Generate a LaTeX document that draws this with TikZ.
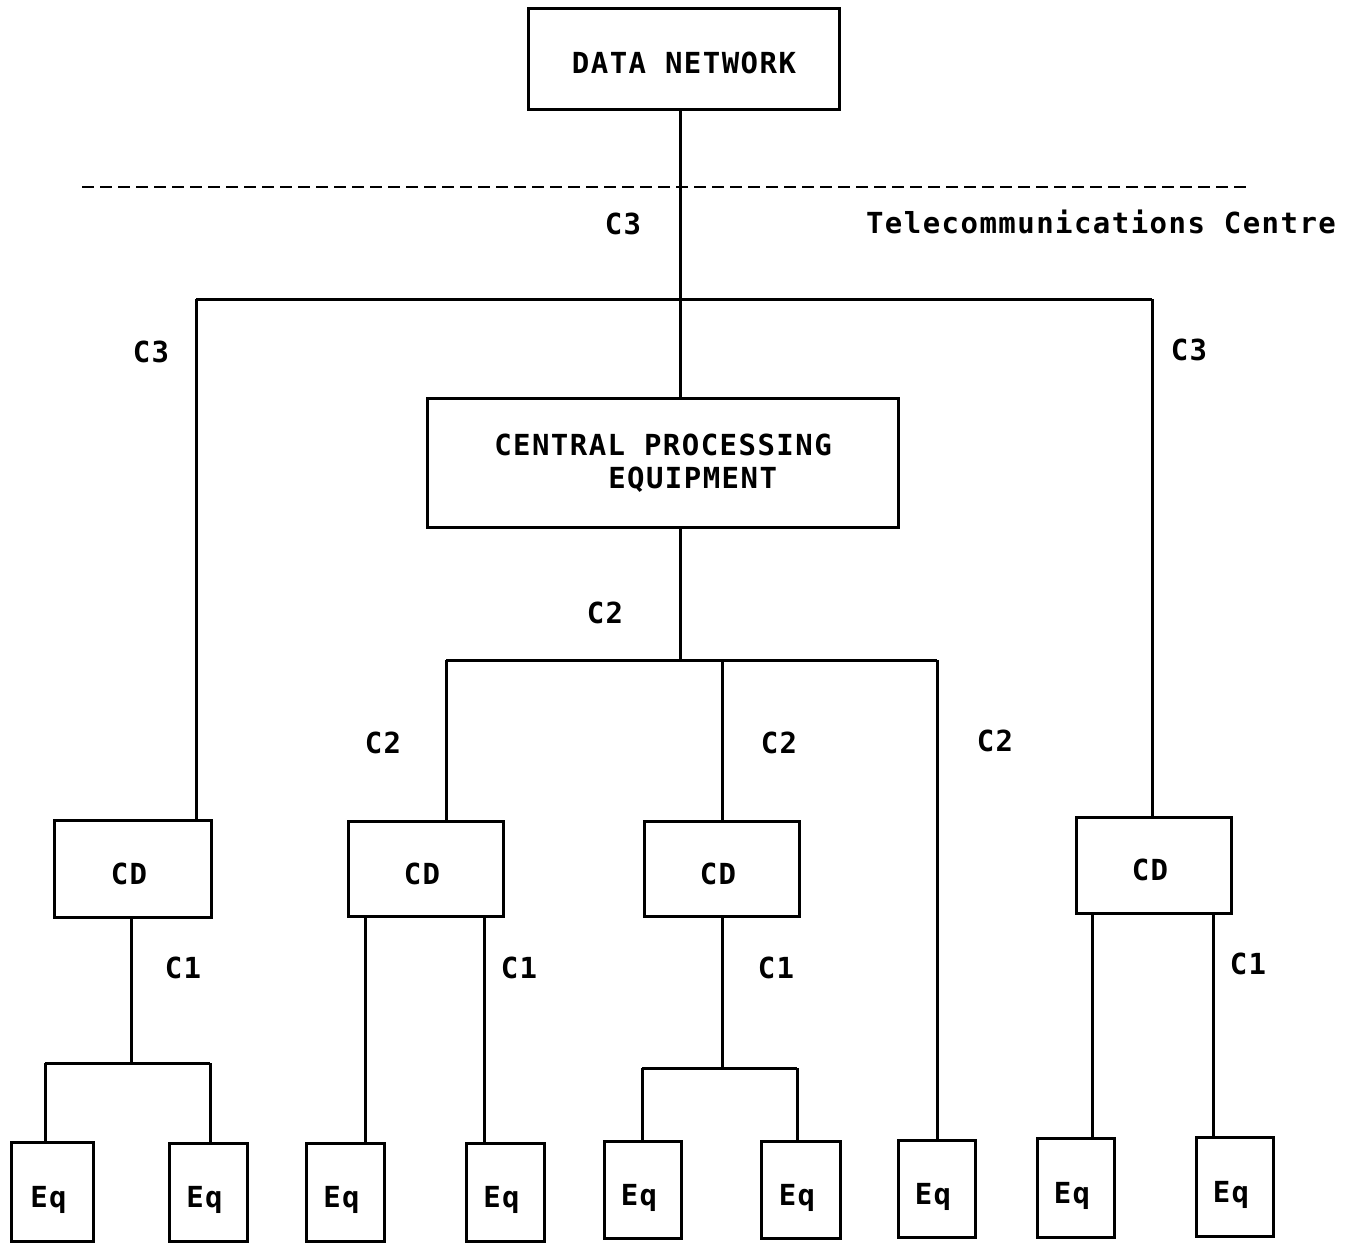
\documentclass[tikz,border=0pt]{standalone}
\usepackage{fontspec}
\setmonofont[LetterSpace=5]{DejaVu Sans Mono}
\begin{document}
\begin{tikzpicture}[x=1pt,y=-1pt,
  every node/.style={font=\ttfamily\bfseries\fontsize{29pt}{33pt}\selectfont},
  box/.style={draw,line width=3pt,inner sep=0pt,anchor=north west},
  sbox/.style={box,text depth=0pt,text height=30pt,execute at end node=\hspace*{8pt}},
  lbl/.style={inner sep=0pt},
  wire/.style={line width=3pt}]
\useasboundingbox (0,0) rectangle (1361,1244);
% boxes
\node[box,text depth=0pt,text height=30pt,minimum width=311pt,minimum height=101pt] (dn) at (527,7) {DATA NETWORK};
\node[box,minimum width=471pt,minimum height=129pt,align=left] (cpe) at (426,397) {CENTRAL PROCESSING\\\hspace*{114pt}EQUIPMENT};
\node[sbox,minimum width=157pt,minimum height=97pt] (cd1) at (53,819) {CD};
\node[sbox,minimum width=155pt,minimum height=95pt] (cd2) at (347,820) {CD};
\node[sbox,minimum width=155pt,minimum height=95pt] (cd3) at (643,820) {CD};
\node[sbox,minimum width=155pt,minimum height=96pt] (cd4) at (1075,816) {CD};
\node[sbox,minimum width=82pt,minimum height=99pt] (e1) at (10,1141) {Eq};
\node[sbox,minimum width=78pt,minimum height=98pt] (e2) at (168,1142) {Eq};
\node[sbox,minimum width=78pt,minimum height=98pt] (e3) at (305,1142) {Eq};
\node[sbox,minimum width=78pt,minimum height=98pt] (e4) at (465,1142) {Eq};
\node[sbox,minimum width=77pt,minimum height=97pt] (e5) at (603,1140) {Eq};
\node[sbox,minimum width=79pt,minimum height=97pt] (e6) at (760,1140) {Eq};
\node[sbox,minimum width=77pt,minimum height=97pt] (e7) at (897,1139) {Eq};
\node[sbox,minimum width=77pt,minimum height=99pt] (e8) at (1036,1137) {Eq};
\node[sbox,minimum width=77pt,minimum height=99pt] (e9) at (1195,1136) {Eq};
% dashed boundary
\coordinate (dl) at (82,187);
\coordinate (dr) at (1250,187);
\draw[wire,line width=2.4pt,dash pattern=on 12pt off 6pt] (dl) -- (dr);
% labels
\node[lbl] (lc3a) at (623,224) {C3};
\node[lbl] (ltc) at (1101,222) {Telecommunications Centre};
\node[lbl] (lc3b) at (151,352) {C3};
\node[lbl] (lc3c) at (1189,350) {C3};
\node[lbl] (lc2a) at (605,613) {C2};
\node[lbl] (lc2b) at (383,743) {C2};
\node[lbl] (lc2c) at (779,743) {C2};
\node[lbl] (lc2d) at (995,741) {C2};
\node[lbl] (lc1a) at (183,968) {C1};
\node[lbl] (lc1b) at (519,968) {C1};
\node[lbl] (lc1c) at (776,968) {C1};
\node[lbl] (lc1d) at (1248,964) {C1};
% junctions
\coordinate (j3m) at (680,299);
\coordinate (j3l) at (196,299);
\coordinate (j3r) at (1152,299);
\coordinate (j2m) at (680,660);
\coordinate (j2l) at (446,660);
\coordinate (j2c) at (722,660);
\coordinate (j2r) at (937,660);
\coordinate (j1a) at (131,1063);
\coordinate (j1al) at (45,1063);
\coordinate (j1ar) at (210,1063);
\coordinate (j1c) at (722,1068);
\coordinate (j1cl) at (642,1068);
\coordinate (j1cr) at (797,1068);
\coordinate (p2l) at (365,915);
\coordinate (p2r) at (484,915);
\coordinate (p4l) at (1092,912);
\coordinate (p4r) at (1213,912);
% C3 level
\draw[wire] (dn.south -| j3m) -- (cpe.north -| j3m);
\draw[wire] (j3l) -- (j3r);
\draw[wire] (j3l) -- (j3l |- cd1.north);
\draw[wire] (j3r) -- (j3r |- cd4.north);
% C2 level
\draw[wire] (cpe.south -| j2m) -- (j2m);
\draw[wire] (j2l) -- (j2r);
\draw[wire] (j2l) -- (j2l |- cd2.north);
\draw[wire] (j2c) -- (j2c |- cd3.north);
\draw[wire] (j2r) -- (j2r |- e7.north);
% C1 level
\draw[wire] (cd1.south -| j1a) -- (j1a);
\draw[wire] (j1al) -- (j1ar);
\draw[wire] (j1al) -- (j1al |- e1.north);
\draw[wire] (j1ar) -- (j1ar |- e2.north);
\draw[wire] (p2l) -- (p2l |- e3.north);
\draw[wire] (p2r) -- (p2r |- e4.north);
\draw[wire] (cd3.south -| j1c) -- (j1c);
\draw[wire] (j1cl) -- (j1cr);
\draw[wire] (j1cl) -- (j1cl |- e5.north);
\draw[wire] (j1cr) -- (j1cr |- e6.north);
\draw[wire] (p4l) -- (p4l |- e8.north);
\draw[wire] (p4r) -- (p4r |- e9.north);
\end{tikzpicture}
\end{document}
